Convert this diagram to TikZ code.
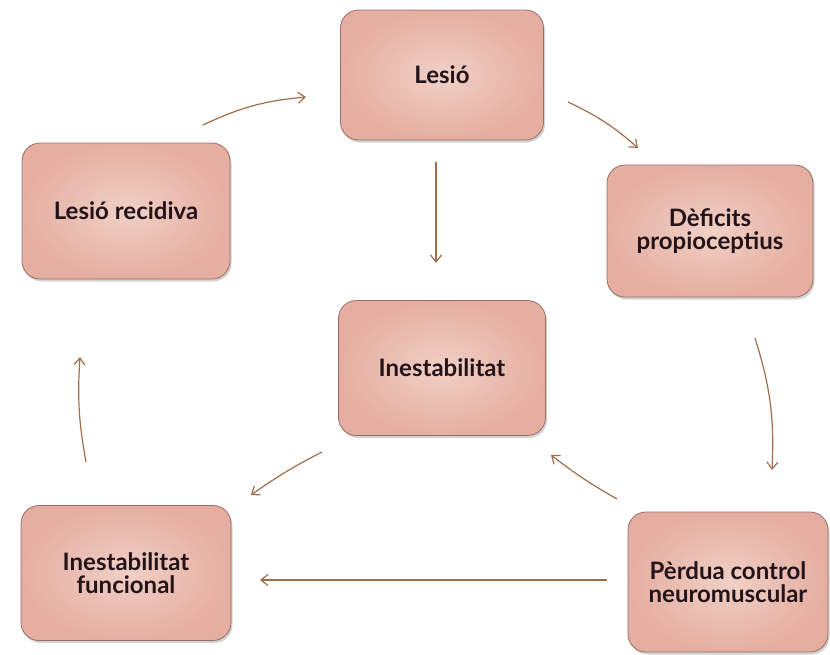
\documentclass[tikz,border=0pt]{standalone}
\usepackage{fontspec}
\setmainfont{Lato}
\usetikzlibrary{arrows.meta,shadows}
\definecolor{boxin}{RGB}{240,208,198}
\definecolor{boxout}{RGB}{229,174,160}
\definecolor{boxedge}{RGB}{150,110,105}
\definecolor{arr}{RGB}{160,110,75}
\definecolor{txt}{RGB}{35,20,25}
\tikzset{
  box/.style={rectangle, rounded corners=18pt, draw=boxedge, line width=0.8pt,
    inner color=boxin, outer color=boxout,
    drop shadow={shadow xshift=1.5pt, shadow yshift=-2.5pt, opacity=0.35},
    align=center, text=txt, font=\bfseries\fontsize{24}{23}\selectfont},
  conn/.style={draw=arr, line width=1.2pt, -{Straight Barb[length=7pt,width=11pt]}}
}
\begin{document}
\begin{tikzpicture}[x=1pt,y=-1pt]
\useasboundingbox (0,0) rectangle (830,654);
\node[box, minimum width=203pt, minimum height=130pt] (lesio) at (442,75) {Lesió};
\node[box, minimum width=208pt, minimum height=136pt] (recid) at (126,211) {Lesió recidiva};
\node[box, minimum width=206pt, minimum height=132pt] (defic) at (710,231) {Dèficits\\propioceptius};
\node[box, minimum width=207pt, minimum height=135pt] (inest) at (442,368) {Inestabilitat};
\node[box, minimum width=210pt, minimum height=135pt] (func) at (126,573) {Inestabilitat\\funcional};
\node[box, minimum width=200pt, minimum height=140pt] (perd) at (728,582) {Pèrdua control\\neuromuscular};
% connector end points
\coordinate (a1) at (203,125); \coordinate (b1) at (306,97);
\coordinate (a2) at (568,102); \coordinate (b2) at (638,148);
\coordinate (a3) at (436,162); \coordinate (b3) at (436,263);
\coordinate (a4) at (755,338); \coordinate (b4) at (772,470);
\coordinate (a5) at (617,499); \coordinate (b5) at (551,455);
\coordinate (a6) at (607,580); \coordinate (b6) at (260,580);
\coordinate (a7) at (322,452); \coordinate (b7) at (251,495);
\coordinate (a8) at (86,462);  \coordinate (b8) at (80,357);
\draw[conn] (a1) to[bend left=10] (b1);
\draw[conn] (a2) to[bend left=8] (b2);
\draw[conn] (a3) -- (b3);
\draw[conn] (a4) to[bend left=10] (b4);
\draw[conn] (a5) to[bend left=4] (b5);
\draw[conn] (a6) -- (b6);
\draw[conn] (a7) to[bend right=4] (b7);
\draw[conn] (a8) to[bend left=7] (b8);
\end{tikzpicture}
\end{document}
